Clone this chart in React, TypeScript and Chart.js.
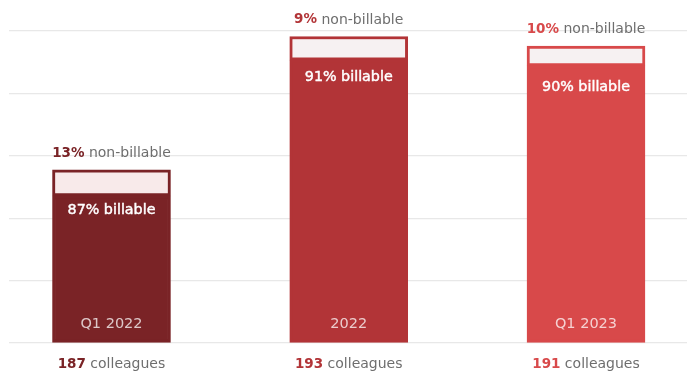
import React, { useEffect, useRef } from "react";
import { Chart, registerables } from "chart.js";

Chart.register(...registerables);

const categories = ["Q1 2022", "2022", "Q1 2023"];
const billablePct = [87, 91, 90];
const nonBillablePct = [13, 9, 10];
const colleagues = [187, 193, 191];
// bar segment heights (grid units)
const billableValues = [2.356, 4.532, 4.44];
const nonBillableValues = [0.42, 0.38, 0.32];
const yTicks = [0, 1, 2, 3, 4, 5];

const barColors = ["#7a2326", "#b23437", "#d8494a"];
const lightColors = ["#f8eaea", "#f6f1f2", "#f6f1f2"];
const FONT = "'DejaVu Sans', sans-serif";

const labelsPlugin = {
  id: "barLabels",
  afterDatasetsDraw(chart: any) {
    const ctx = chart.ctx;
    const meta = chart.getDatasetMeta(1);
    const area = chart.chartArea;
    ctx.save();
    ctx.textBaseline = "middle";
    meta.data.forEach((bar: any, i: number) => {
      const x = bar.x;
      const top = bar.y;
      // non-billable label above bar
      const p1 = `${nonBillablePct[i]}%`;
      const p2 = " non-billable";
      ctx.font = `bold 13.5px ${FONT}`;
      const w1 = ctx.measureText(p1).width;
      ctx.font = `14px ${FONT}`;
      const w2 = ctx.measureText(p2).width;
      let sx = x - (w1 + w2) / 2;
      ctx.textAlign = "left";
      ctx.font = `bold 13.5px ${FONT}`;
      ctx.fillStyle = barColors[i];
      ctx.fillText(p1, sx, top - 16.5);
      ctx.font = `14px ${FONT}`;
      ctx.fillStyle = "#6e6e6e";
      ctx.fillText(p2, sx + w1, top - 16.5);

      // billable label inside bar (medium weight)
      ctx.textAlign = "center";
      ctx.font = `14.3px ${FONT}`;
      ctx.fillStyle = "#ffffff";
      ctx.strokeStyle = "#ffffff";
      ctx.lineWidth = 0.45;
      const bl = `${billablePct[i]}% billable`;
      ctx.fillText(bl, x, top + 41);
      ctx.strokeText(bl, x, top + 41);

      // category inside bar bottom
      ctx.font = `14.5px ${FONT}`;
      ctx.fillStyle = "rgba(255,255,255,0.75)";
      ctx.fillText(categories[i], x, area.bottom - 18.5);

      // colleagues below
      const c1 = `${colleagues[i]}`;
      const c2 = " colleagues";
      ctx.font = `bold 13.5px ${FONT}`;
      const cw1 = ctx.measureText(c1).width;
      ctx.font = `14px ${FONT}`;
      const cw2 = ctx.measureText(c2).width;
      sx = x - (cw1 + cw2) / 2;
      ctx.textAlign = "left";
      ctx.font = `bold 13.5px ${FONT}`;
      ctx.fillStyle = barColors[i];
      ctx.fillText(c1, sx, area.bottom + 21.5);
      ctx.font = `14px ${FONT}`;
      ctx.fillStyle = "#6e6e6e";
      ctx.fillText(c2, sx + cw1, area.bottom + 21.5);
    });
    ctx.restore();
  },
};

export default function App() {
  const ref = useRef<HTMLCanvasElement | null>(null);
  useEffect(() => {
    if (!ref.current) return;
    const chart = new Chart(ref.current, {
      type: "bar",
      data: {
        datasets: [
          {
            label: "billable",
            data: categories.map((_, i) => ({ x: i, y: billableValues[i] })),
            backgroundColor: barColors,
            borderColor: barColors,
            borderWidth: 3,
            borderSkipped: false,
            barThickness: 118,
          },
          {
            label: "non-billable",
            data: categories.map((_, i) => ({ x: i, y: nonBillableValues[i] })),
            backgroundColor: lightColors,
            borderColor: barColors,
            borderWidth: 3,
            borderSkipped: false,
            barThickness: 118,
          },
        ],
      },
      options: {
        animation: false,
        responsive: false,
        maintainAspectRatio: false,
        layout: { padding: { left: 9, right: 0, top: 31, bottom: 30 } },
        plugins: { legend: { display: false }, tooltip: { enabled: false } },
        scales: {
          x: {
            type: "linear",
            stacked: true,
            offset: false,
            min: -0.432,
            max: 2.4257,
            display: false,
          },
          y: {
            stacked: true,
            min: yTicks[0],
            max: yTicks[yTicks.length - 1],
            afterBuildTicks: (scale: any) => {
              scale.ticks = yTicks.map((v) => ({ value: v }));
            },
            ticks: { display: false },
            border: { display: false },
            grid: { color: "#e8e8e8", lineWidth: 1.2, drawTicks: false },
          },
        },
      },
      plugins: [labelsPlugin],
    } as any);
    return () => chart.destroy();
  }, []);
  return (
    <div style={{ position: "fixed", left: 0, top: 0, width: 687, height: 373, background: "#fff" }}>
      <canvas ref={ref} width={687} height={373} style={{ width: 687, height: 373, display: "block" }} />
    </div>
  );
}
